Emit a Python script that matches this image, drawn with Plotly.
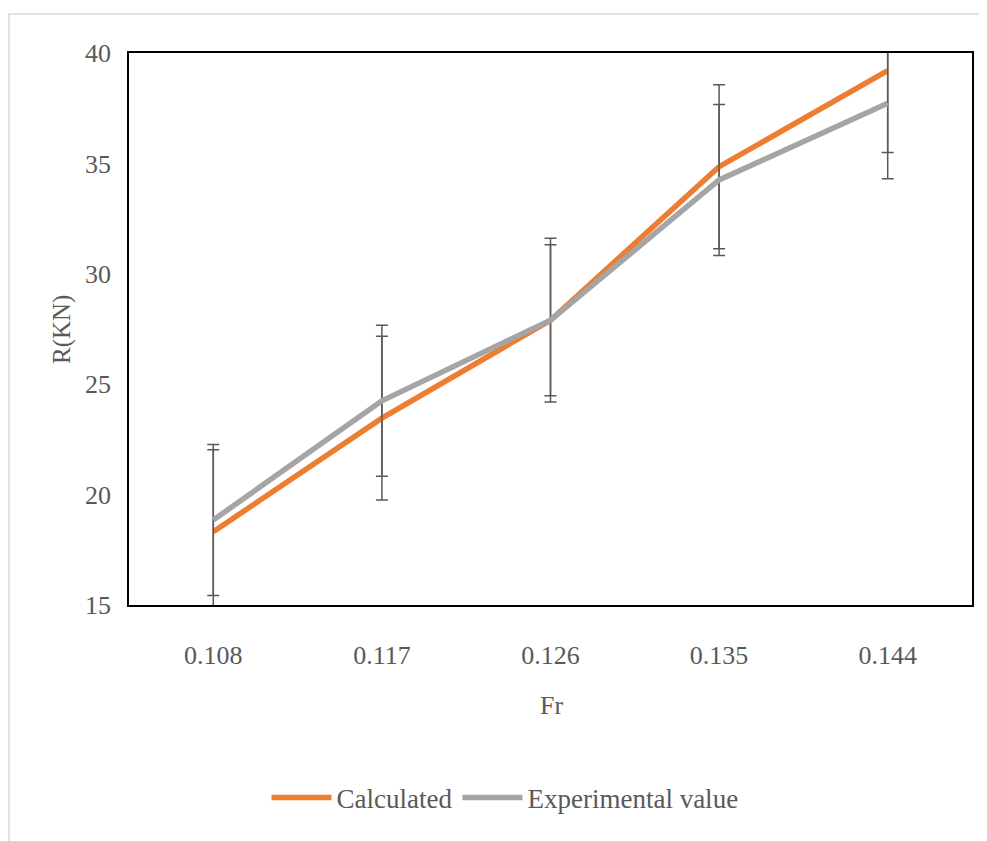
import plotly.graph_objects as go

categories = ["0.108", "0.117", "0.126", "0.135", "0.144"]
calculated = [18.32, 23.46, 27.9, 34.85, 39.2]
experimental = [18.85, 24.25, 27.9, 34.25, 37.72]
calculated_err = [3.71, 3.71, 3.71, 3.71, 3.71]
experimental_err = [3.42, 3.42, 3.42, 3.42, 3.42]
y_ticks = [15, 20, 25, 30, 35, 40]

FONT = "Liberation Serif, Times New Roman, serif"
TXT = "#595959"
OFF = 8  # page body margin
W, H = 987 - OFF, 841 - OFF
L, T = 129 - OFF, 53 - OFF
R = W - (972 - OFF)
B = H - (605 - OFF)
pw, ph = W - L - R, H - T - B


def px2paper_x(px):
    return (px - OFF - L) / pw


def px2paper_y(py):
    return (H - B - (py - OFF)) / ph


fig = go.Figure()
fig.add_trace(go.Scatter(
    x=categories, y=calculated, mode="lines", name="Calculated",
    line=dict(color="#ED7D31", width=5.5),
    error_y=dict(type="data", array=calculated_err, visible=True,
                 color="#595959", thickness=1.5, width=6),
))
fig.add_trace(go.Scatter(
    x=categories, y=experimental, mode="lines", name="Experimental value",
    line=dict(color="#A5A5A5", width=5.5),
    error_y=dict(type="data", array=experimental_err, visible=True,
                 color="#595959", thickness=1.5, width=6),
))

fig.update_layout(
    width=W, height=H,
    margin=dict(l=L, r=R, t=T, b=B),
    paper_bgcolor="white", plot_bgcolor="white",
    font=dict(family=FONT, size=26, color=TXT),
    showlegend=True,
    legend=dict(orientation="h", x=px2paper_x(505), xanchor="center",
                y=px2paper_y(798), yanchor="middle",
                font=dict(family=FONT, size=27, color=TXT),
                itemwidth=60, tracegroupgap=0),
    xaxis=dict(type="category", range=[-0.5, 4.5], showgrid=False,
               showline=True, linecolor="black", linewidth=1.5, mirror=True,
               ticks="", ticklabelstandoff=26,
               tickfont=dict(family=FONT, size=26, color=TXT)),
    yaxis=dict(range=[15, 40], tickvals=y_ticks, showgrid=False,
               showline=True, linecolor="black", linewidth=1.5, mirror=True,
               ticks="", ticklabelstandoff=11, zeroline=False,
               tickfont=dict(family=FONT, size=26, color=TXT)),
    annotations=[
        dict(text="Fr", x=px2paper_x(551), y=px2paper_y(705), xref="paper",
             yref="paper", showarrow=False, xanchor="center", yanchor="middle",
             font=dict(family=FONT, size=26, color=TXT)),
        dict(text="R(KN)", x=px2paper_x(62), y=px2paper_y(330), xref="paper",
             yref="paper", showarrow=False, textangle=-90,
             xanchor="center", yanchor="middle",
             font=dict(family=FONT, size=25, color=TXT)),
    ],
    shapes=[
        dict(type="rect", xref="paper", yref="paper",
             x0=px2paper_x(9), x1=px2paper_x(1000),
             y0=px2paper_y(860), y1=px2paper_y(14),
             line=dict(color="#D9D9D9", width=1.5), layer="below"),
    ],
)

fig.write_html("out.html")
